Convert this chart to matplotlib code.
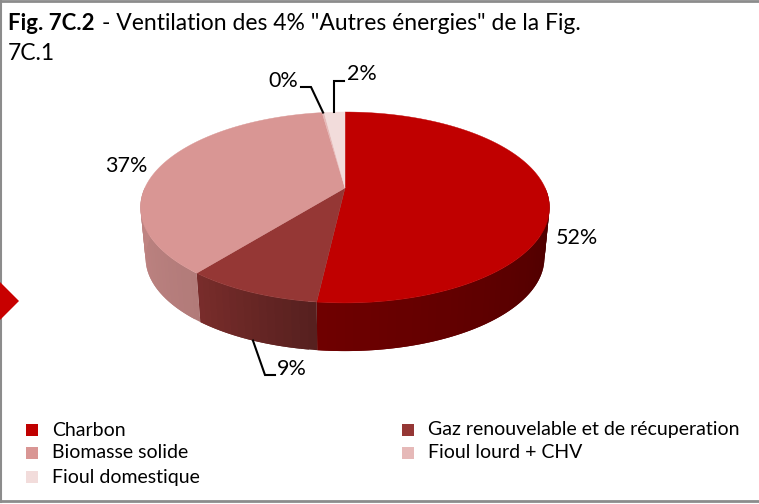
import numpy as np
import matplotlib
matplotlib.use("Agg")
import matplotlib.pyplot as plt
from matplotlib.patches import Polygon, Rectangle

plt.rcParams["font.family"] = ["Lato", "DejaVu Sans"]

categories = ["Charbon", "Gaz renouvelable et de récuperation", "Biomasse solide",
              "Fioul lourd + CHV", "Fioul domestique"]
values = [51.8, 8.9, 37.1, 0.2, 2]
labels = ["52%", "9%", "37%", "0%", "2%"]
colors = ["#C00000", "#953735", "#D99694", "#E6B9B8", "#F2DCDB"]

# pie geometry in pixels, the slight perspective comes from k
cx, cy = 345, 188
a, b, k = 200.2, 91.5, 0.204


def top_xy(theta):
    t = np.radians(theta)
    d = 1 + k * np.cos(t)
    return cx + a * np.sin(t) / d, cy - b * np.cos(t) / d


def bottom_xy(theta):
    x, y = top_xy(theta)
    return cx + (x - cx) * 0.975, cy + (y - cy) * 0.975 + 51


def shade(color, theta):
    f = np.interp(theta, [100, 187, 219, 260], [0.4, 0.58, 0.82, 0.88])
    return tuple(c * f for c in matplotlib.colors.to_rgb(color))


fig = plt.figure(figsize=(7.59, 5.04), dpi=100)
ax = fig.add_axes([0, 0, 1, 1])
ax.set_xlim(0, 759)
ax.set_ylim(504, 0)
ax.axis("off")

edges = np.concatenate([[0], np.cumsum(values)]) / sum(values) * 360

# side wall, each strip runs on under the next one so no seams show
for start, end, col in zip(edges[:-1], edges[1:], colors):
    lo, hi = max(start, 90), min(end, 270)
    if hi <= lo:
        continue
    for t0 in np.arange(lo, hi, 2.0):
        th = np.linspace(t0, min(t0 + 4.0, hi), 6)
        xt, yt = top_xy(th)
        xb, yb = bottom_xy(th[::-1])
        pts = np.column_stack([np.r_[xt, xb], np.r_[yt, yb]])
        ax.add_patch(Polygon(pts, facecolor=shade(col, t0 + 1.0), edgecolor="none"))

# top face
for start, end, col in zip(edges[:-1], edges[1:], colors):
    if end <= start:
        continue
    th = np.linspace(start, end, 120)
    xs, ys = top_xy(th)
    pts = np.column_stack([np.r_[cx, xs], np.r_[cy, ys]])
    ax.add_patch(Polygon(pts, facecolor=col, edgecolor=col, linewidth=0.3))

# leader lines start on the slices
mids = (edges[:-1] + edges[1:]) / 2
lw = 1.5
x0, y0 = top_xy(mids[3])
ax.plot([x0, 311, 301], [y0, 87, 87], color="black", lw=lw, solid_joinstyle="miter")
x0, y0 = top_xy(mids[4])
ax.plot([334, 334, 344], [y0, 81, 81], color="black", lw=lw, solid_joinstyle="miter")
x0, y0 = bottom_xy(mids[1])
ax.plot([x0, 265, 275], [y0, 375, 375], color="black", lw=lw, solid_joinstyle="miter")

lab_size = 15.5
ax.text(577, 238, labels[0], ha="center", va="center", fontsize=lab_size)
ax.text(292, 369, labels[1], ha="center", va="center", fontsize=lab_size)
ax.text(126, 166, labels[2], ha="center", va="center", fontsize=lab_size)
ax.text(283, 81, labels[3], ha="center", va="center", fontsize=lab_size)
ax.text(362, 74, labels[4], ha="center", va="center", fontsize=lab_size)

# title
ax.text(8, 29.5, "Fig. 7C.2", fontsize=16, fontweight="bold", va="baseline")
ax.text(102, 29.5, '- Ventilation des 4% "Autres énergies" de la Fig.', fontsize=16.5, va="baseline")
ax.text(8, 60, "7C.1", fontsize=16.5, va="baseline")

# legend
leg_x = [26, 402, 26, 402, 26]
leg_y = [424, 424, 447, 447, 471]
for name, col, lx, ly in zip(categories, colors, leg_x, leg_y):
    ax.add_patch(Rectangle((lx, ly), 12, 12, facecolor=col, edgecolor="none"))
    ax.text(lx + 26, ly + 6, name, fontsize=14, va="center")

# frame of the page and the red marker
grey = "#8c8c8c"
ax.plot([0, 759], [1, 1], color=grey, lw=2)
ax.plot([0, 759], [501, 501], color=grey, lw=2)
ax.plot([0.5, 0.5], [0, 502], color=grey, lw=1.5)
ax.add_patch(Polygon([(0, 282), (19, 301), (0, 320)], facecolor="#C80000", edgecolor="none", zorder=5))

fig.savefig("out.png", dpi=100)
